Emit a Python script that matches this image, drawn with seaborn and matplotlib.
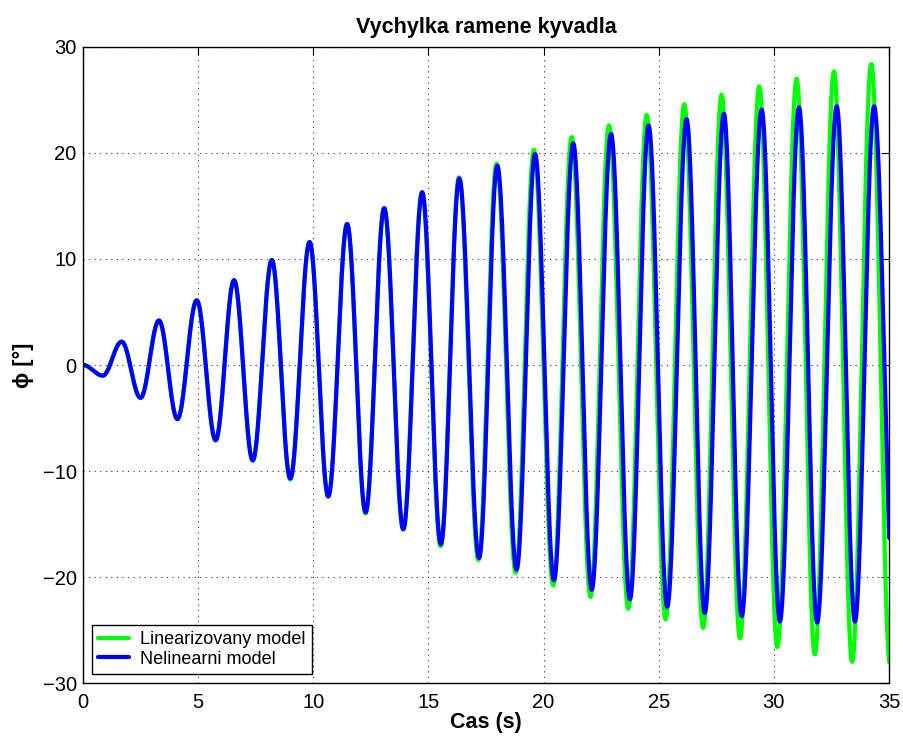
import numpy as np
import pandas as pd
import matplotlib
matplotlib.use("Agg")
import matplotlib.pyplot as plt
import seaborn as sns

# Extremum times (s) and deflections (deg)
lin_t = [0, 0.86, 1.68, 2.5, 3.3, 4.1, 4.94, 5.76, 6.56, 7.37, 8.2, 9.0, 9.84, 10.65,
         11.47, 12.27, 13.08, 13.9, 14.72, 15.53, 16.33, 17.17, 17.96, 18.79, 19.58,
         20.42, 21.22, 22.04, 22.84, 23.68, 24.48, 25.3, 26.11, 26.93, 27.73, 28.53,
         29.37, 30.15, 30.99, 31.78, 32.61, 33.4, 34.23, 35.05]
lin_phi = [0, -1.0, 2.2, -3.1, 4.2, -5.1, 6.1, -7.1, 8.0, -9.0, 9.9, -10.8, 11.6, -12.4,
           13.3, -14.0, 14.8, -15.5, 16.3, -17.1, 17.7, -18.4, 19.0, -19.6, 20.3,
           -20.8, 21.5, -21.9, 22.6, -23.0, 23.6, -24.0, 24.6, -24.8, 25.5, -25.8,
           26.3, -26.6, 27.0, -27.3, 27.7, -28.0, 28.4, -28.4]

nonlin_t = [0, 0.86, 1.68, 2.5, 3.3, 4.1, 4.94, 5.76, 6.56, 7.37, 8.2, 9.0, 9.84, 10.65,
            11.47, 12.27, 13.08, 13.91, 14.73, 15.54, 16.34, 17.2, 17.99, 18.83, 19.63,
            20.45, 21.29, 22.09, 22.93, 23.75, 24.56, 25.37, 26.21, 27.0, 27.83, 28.6,
            29.47, 30.26, 31.09, 31.88, 32.73, 33.52, 34.35, 35.25]
nonlin_phi = [0, -1.0, 2.2, -3.1, 4.2, -5.1, 6.1, -7.1, 8.0, -9.0, 9.9, -10.7, 11.6, -12.4,
              13.3, -13.9, 14.8, -15.5, 16.3, -16.9, 17.6, -18.2, 18.8, -19.3, 19.9,
              -20.3, 20.9, -21.2, 21.8, -22.1, 22.6, -22.8, 23.2, -23.4, 23.7, -23.7,
              24.1, -24.2, 24.3, -24.3, 24.4, -24.2, 24.4, -24.4]

series_names = ["Linearizovany model", "Nelinearni model"]
series_colors = ["#00ff00", "#0000ff"]


def swing(tk, vk, n=60):
    """Smooth half-cosine shape between consecutive extrema."""
    ts, vs = [], []
    for i in range(len(tk) - 1):
        s = np.linspace(0, 1, n, endpoint=False)
        ts.append(tk[i] + (tk[i + 1] - tk[i]) * s)
        vs.append(vk[i] + (vk[i + 1] - vk[i]) * (1 - np.cos(np.pi * s)) / 2)
    ts.append([tk[-1]])
    vs.append([vk[-1]])
    return np.concatenate(ts), np.concatenate(vs)


frames = []
for name, tk, vk in [(series_names[0], lin_t, lin_phi), (series_names[1], nonlin_t, nonlin_phi)]:
    t, v = swing(tk, vk)
    frames.append(pd.DataFrame({"t": t, "phi": v, "model": name}))
df = pd.concat(frames, ignore_index=True)

sns.set_style("white")
plt.rcParams["font.family"] = ["Liberation Sans", "DejaVu Sans"]
plt.rcParams["text.color"] = "black"
plt.rcParams["axes.labelcolor"] = "black"

fig = plt.figure(figsize=(9.04, 7.40), dpi=100)
ax = fig.add_axes([0.0918, 0.077, 0.8916, 0.8595])

sns.lineplot(data=df, x="t", y="phi", hue="model", hue_order=series_names,
             palette=series_colors, linewidth=3.0, sort=False, estimator=None, ax=ax)

ax.set_xlim(0, 35)
ax.set_ylim(-30, 30)
ax.set_xticks(np.arange(0, 36, 5))
ax.set_yticks(np.arange(-30, 31, 10))
ax.set_yticklabels(["\u221230", "\u221220", "\u221210", "0", "10", "20", "30"])
ax.grid(True, color="black", linestyle=(0, (1, 4)), linewidth=0.8, alpha=0.8)
ax.tick_params(direction="in", length=6, width=0.8, top=True, right=True,
               labelsize=14.5, colors="black")
ax.tick_params(axis="x", pad=7)
ax.tick_params(axis="y", pad=4.5)
for sp in ax.spines.values():
    sp.set_color("black")
    sp.set_linewidth(1.0)

ax.set_title("Vychylka ramene kyvadla", fontsize=15.5, fontweight="bold", pad=10,
             color="black")
ax.set_xlabel("Cas (s)", fontsize=15.5, fontweight="bold", labelpad=0)
ax.set_ylabel("\u03d5 [°]", fontsize=15.5, fontweight="bold", labelpad=6)

leg = ax.legend(loc="lower left", fontsize=13, frameon=True, fancybox=False,
                edgecolor="black", framealpha=1, borderpad=0.35, handlelength=1.7,
                handletextpad=0.62, labelspacing=0.15, borderaxespad=0.5)
leg.get_frame().set_linewidth(1.0)
for line in leg.get_lines():
    line.set_linewidth(3.0)

fig.savefig("out.png", dpi=100)
